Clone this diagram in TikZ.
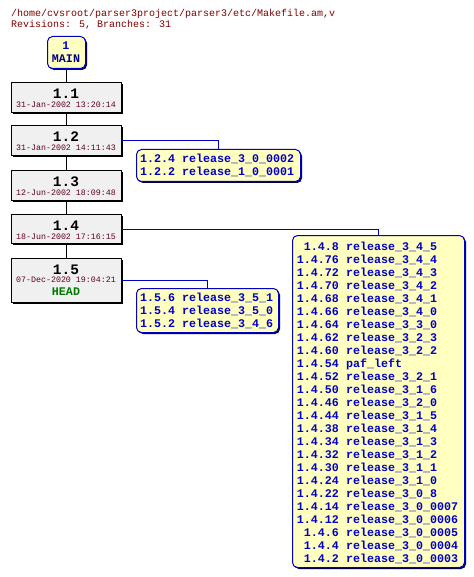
\documentclass[tikz,border=0pt]{standalone}
\usepackage{fontspec}
\usetikzlibrary{shadows}
\newfontfamily\cvsmono{Liberation Mono}
\definecolor{hdrcol}{RGB}{128,0,0}
\definecolor{datecol}{RGB}{96,0,32}
\definecolor{tagcol}{RGB}{0,0,200}
\definecolor{maincol}{RGB}{0,0,128}
\definecolor{headcol}{RGB}{0,120,0}
\definecolor{revfill}{RGB}{240,240,240}
\definecolor{brfill}{RGB}{255,255,192}
\definecolor{brdraw}{RGB}{0,0,192}
\definecolor{brshadow}{RGB}{0,0,80}
\begin{document}
\begin{tikzpicture}[x=1pt,y=-1pt,
  txt/.style={inner sep=0pt, outer sep=0pt},
  hdr/.style={txt, anchor=base west, text=hdrcol, font=\cvsmono\fontsize{10}{12}\selectfont},
  revnum/.style={txt, anchor=base, text=black, font=\cvsmono\bfseries\fontsize{14.5}{16}\selectfont},
  datetxt/.style={txt, anchor=base, text=datecol, font=\cvsmono\fontsize{8.3}{10}\selectfont},
  tagtxt/.style={txt, anchor=base west, text=tagcol, font=\cvsmono\bfseries\fontsize{11.67}{13}\selectfont},
  revbox/.style={draw=black, fill=revfill, line width=1pt, minimum width=110pt, anchor=north west, inner sep=0pt,
    drop shadow={shadow xshift=1.5pt, shadow yshift=-1.5pt, fill=black, opacity=1}},
  brbox/.style={draw=brdraw, fill=brfill, line width=1pt, rounded corners=5pt, anchor=north west, inner sep=0pt,
    drop shadow={shadow xshift=1.5pt, shadow yshift=-1.5pt, fill=brshadow, opacity=1}},
  trunk/.style={draw=black, line width=1pt},
  brline/.style={draw=brdraw, line width=1pt}]
\fill[white] (0,0) rectangle (473,577);
\useasboundingbox (0,0) rectangle (473,577);

% header
\node[hdr] (h1) at (11,17) {/home/cvsroot/parser3project/parser3/etc/Makefile.am,v};
\node[hdr] (h2) at (11,28) {Revisions: 5, Branches: 31};

% MAIN
\node[brbox, minimum width=38pt, minimum height=32pt] (main) at (47,36) {};
\node[tagtxt, anchor=base, text=tagcol] (mainnum) at (66,49.3) {1};
\node[tagtxt, anchor=base, text=maincol] (mainname) at (66,62.3) {MAIN};

% revision boxes
\node[revbox, minimum height=30pt] (r11) at (11,82) {};
\node[revbox, minimum height=30pt] (r12) at (11,125) {};
\node[revbox, minimum height=30pt] (r13) at (11,170) {};
\node[revbox, minimum height=29pt] (r14) at (11,214) {};
\node[revbox, minimum height=44pt] (r15) at (11,258) {};

\node[revnum] (n11) at (66,98.3) {1.1};
\node[datetxt] (d11) at (66,107.3) {31-Jan-2002 13:20:14};
\node[revnum] (n12) at (66,141.5) {1.2};
\node[datetxt] (d12) at (66,150.5) {31-Jan-2002 14:11:43};
\node[revnum] (n13) at (66,186.5) {1.3};
\node[datetxt] (d13) at (66,195.5) {12-Jun-2002 18:09:48};
\node[revnum] (n14) at (66,230.3) {1.4};
\node[datetxt] (d14) at (66,239.3) {18-Jun-2002 17:16:15};
\node[revnum] (n15) at (66,274) {1.5};
\node[datetxt] (d15) at (66,282.7) {07-Dec-2020 19:04:21};
\node[tagtxt, anchor=base, text=headcol] (head) at (66,295) {HEAD};

% trunk connectors
\draw[trunk] (main.south) -- (r11.north);
\draw[trunk] (r11.south) -- (r12.north);
\draw[trunk] (r12.south) -- (r13.north);
\draw[trunk] (r13.south) -- (r14.north);
\draw[trunk] (r14.south) -- (r15.north);

% branch boxes
\node[brbox, minimum width=164pt, minimum height=32pt] (b12) at (136,149) {};
\node[brbox, minimum width=172pt, minimum height=332pt] (b14) at (292,235) {};
\node[brbox, minimum width=142pt, minimum height=44pt] (b15) at (136,288) {};

\draw[brline] (r12.east) -| (b12.north);
\draw[brline] (r14.east) -| (b14.north);
\draw[brline] (r15.east) -| (b15.north);

% branch tags
\foreach \va/\vb [count=\i from 0] in {1.2.4/release\_3\_0\_0002, 1.2.2/release\_1\_0\_0001}
  \node[tagtxt] (t12x\i) at (140,{162.5+13*\i}) {\va\ \vb};

\foreach \va/\vb [count=\i from 0] in {1.5.6/release\_3\_5\_1, 1.5.4/release\_3\_5\_0, 1.5.2/release\_3\_4\_6}
  \node[tagtxt] (t15x\i) at (140,{301.5+13*\i}) {\va\ \vb};

\foreach \va/\vb [count=\i from 0] in {
  1.4.8/release\_3\_4\_5, 1.4.76/release\_3\_4\_4, 1.4.72/release\_3\_4\_3, 1.4.70/release\_3\_4\_2,
  1.4.68/release\_3\_4\_1, 1.4.66/release\_3\_4\_0, 1.4.64/release\_3\_3\_0, 1.4.62/release\_3\_2\_3,
  1.4.60/release\_3\_2\_2, 1.4.54/paf\_left, 1.4.52/release\_3\_2\_1, 1.4.50/release\_3\_1\_6,
  1.4.46/release\_3\_2\_0, 1.4.44/release\_3\_1\_5, 1.4.38/release\_3\_1\_4, 1.4.34/release\_3\_1\_3,
  1.4.32/release\_3\_1\_2, 1.4.30/release\_3\_1\_1, 1.4.24/release\_3\_1\_0, 1.4.22/release\_3\_0\_8,
  1.4.14/release\_3\_0\_0007, 1.4.12/release\_3\_0\_0006, 1.4.6/release\_3\_0\_0005,
  1.4.4/release\_3\_0\_0004, 1.4.2/release\_3\_0\_0003}
  \node[tagtxt] (t14x\i) at (297,{250+13*\i}) {\makebox[42pt][r]{\va}\ \vb};
\end{tikzpicture}
\end{document}
